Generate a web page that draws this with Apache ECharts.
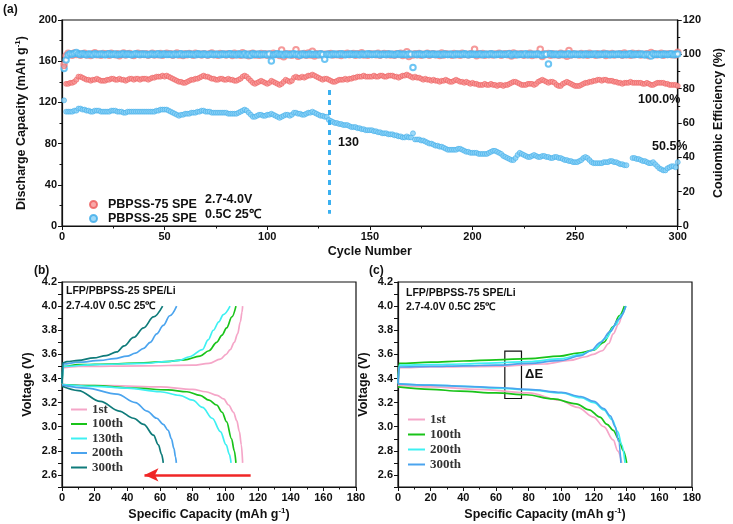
<!DOCTYPE html>
<html>
<head>
<meta charset="utf-8">
<script src="https://cdn.jsdelivr.net/npm/echarts@6/dist/echarts.min.js"></script>
<style>
  html, body { margin: 0; padding: 0; background: #fff; }
  #main { width: 733px; height: 524px; }
</style>
</head>
<body>
<div id="main"></div>
<script>
// ---------- (a) cycling data, one value per cycle (1..300) ----------
var capRed = [
155,138,138,139,139,140,142,145,145,144,
143,142,142,141,142,142,143,142,141,141,
141,142,142,143,143,142,142,143,142,142,
141,142,143,143,142,143,143,142,143,143,
143,142,143,144,144,145,145,145,146,145,
146,145,144,143,142,141,140,140,139,139,
140,141,142,142,143,143,144,145,146,145,
145,144,143,143,142,142,143,143,142,142,
143,142,142,141,141,142,143,145,146,145,
143,141,139,138,139,140,141,140,139,138,
139,141,140,139,138,137,138,140,142,141,
140,141,144,145,144,144,145,144,145,146,
146,147,146,145,144,143,142,143,143,142,
141,140,140,141,142,142,142,143,142,143,
143,144,144,145,145,145,146,145,145,145,
145,146,145,145,146,146,145,145,146,146,
146,145,145,144,145,146,146,147,146,145,
144,145,144,144,143,142,143,142,142,141,
142,141,141,140,141,141,142,141,140,140,
141,142,141,140,140,139,140,139,138,139,
138,138,137,137,137,138,137,137,138,137,
137,136,137,137,136,137,137,138,139,140,
140,139,138,137,137,137,138,138,138,137,
138,140,141,142,141,140,139,140,140,139,
137,136,136,138,139,140,139,138,137,136,
136,136,137,138,139,139,140,140,141,141,
142,142,141,142,142,141,141,141,140,140,
139,139,138,139,139,139,140,139,139,139,
139,139,138,138,139,138,137,137,138,139,
139,139,139,138,138,137,137,137,137,136];

var capBlue = [
122,111,111,111,111,112,112,114,114,113,
113,112,112,111,111,112,112,112,111,111,
111,111,111,112,112,112,111,111,111,110,
110,111,111,111,111,111,111,111,111,111,
111,111,111,111,111,112,112,113,113,113,
113,112,111,110,109,108,107,108,108,109,
109,109,110,110,110,111,111,112,112,111,
111,111,110,110,110,110,110,110,110,110,
109,109,109,109,109,110,111,112,113,112,
110,108,106,106,107,108,108,107,107,108,
108,109,108,107,106,105,106,107,108,108,
107,108,110,110,109,109,108,108,109,110,
110,111,110,109,108,107,107,106,106,103,
102,101,100,100,99,99,98,98,98,97,
96,96,96,95,95,94,94,93,93,93,
93,92,92,91,91,90,90,90,89,89,
89,88,88,87,87,86,86,87,86,86,
90,84,84,84,83,83,82,81,80,80,
79,78,78,77,77,76,75,74,74,74,
74,74,75,75,74,73,72,72,71,71,
71,71,70,70,70,70,70,71,72,73,
73,72,71,70,68,67,66,65,64,64,
66,69,71,70,69,68,67,67,68,69,
68,67,67,68,68,67,67,66,66,67,
67,66,66,65,64,64,63,63,62,62,
62,63,64,66,67,66,64,62,61,61,
61,61,61,62,62,62,63,63,62,62,
61,60,60,59,59,null,null,66,66,65,
65,64,63,63,62,61,61,62,60,58,
56,55,54,54,56,57,58,58,57,62];

var ceRed = [
94.0,99.2,100.6,100.1,99.5,100.8,99.9,100.3,99.4,100.2,
100.7,99.6,100.0,99.3,100.4,100.9,99.8,100.2,99.5,100.5,
99.9,100.3,99.4,100.6,100.1,99.7,100.4,99.2,100.0,100.8,
99.6,100.2,100.5,99.8,99.3,100.1,100.6,99.7,100.3,99.9,
100.4,99.5,100.0,100.7,99.6,100.2,99.8,100.5,99.4,100.1,
100.6,99.9,100.3,99.5,100.0,100.8,99.6,100.2,99.3,100.4,
99.8,100.5,100.1,99.4,100.7,99.9,100.2,99.6,100.4,100.0,
99.5,100.3,100.8,99.7,100.1,99.4,100.5,99.9,100.2,99.6,
100.4,100.0,99.3,100.6,99.8,100.2,99.5,100.9,99.7,100.1,
99.2,100.4,100.7,99.6,100.0,99.4,100.5,99.8,100.3,99.5,
100.2,99.7,100.6,99.9,100.1,99.3,102.5,98.6,100.4,99.8,
100.3,99.5,100.1,102.6,98.9,100.2,99.7,100.5,99.4,100.8,
99.6,101.8,99.1,100.3,99.8,100.4,99.5,100.0,99.9,100.2,
100.5,99.6,100.1,99.8,100.4,99.3,100.2,99.9,100.6,99.7,
100.0,100.5,99.4,100.3,99.8,100.9,99.6,100.1,99.5,100.4,
99.9,100.2,99.7,100.6,99.4,100.0,100.5,99.8,100.3,99.6,
100.1,99.5,100.4,99.9,100.7,99.3,100.2,101.5,98.8,100.0,
99.6,100.3,99.8,100.5,99.4,100.1,99.9,100.6,99.5,100.2,
100.4,99.7,100.0,99.3,100.8,99.6,100.3,99.9,100.1,99.5,
100.5,99.8,100.2,99.4,100.6,99.9,100.0,99.6,100.4,100.1,
103.0,99.2,100.3,99.7,100.5,99.5,100.1,99.8,100.4,99.6,
100.2,99.9,100.6,99.4,100.0,100.3,99.7,100.5,99.1,100.8,
99.6,100.2,99.9,100.4,99.5,100.1,99.8,100.6,99.3,100.0,
99.7,100.4,103.0,98.7,100.2,99.9,100.5,99.4,100.3,99.8,
100.1,99.5,100.6,99.7,100.2,98.9,102.2,99.6,100.4,99.9,
100.0,99.6,100.5,99.8,100.2,99.4,100.7,99.9,100.1,99.5,
100.4,99.7,100.0,100.6,99.3,100.2,99.8,100.5,99.6,100.1,
99.9,100.3,99.5,100.8,99.7,100.0,99.4,100.6,99.8,100.2,
100.5,99.6,100.1,99.9,100.4,99.2,101.0,99.7,100.3,99.8,
100.0,100.6,99.5,100.2,99.9,100.4,99.7,100.1,99.6,101.2];

var ceBlue = [
91.8,96.7,99.6,100.3,100.0,100.5,101.0,100.2,99.9,100.3,
100.1,99.8,100.2,100.0,99.7,100.3,100.1,99.9,100.2,100.0,
99.8,100.1,100.3,99.9,100.0,100.2,99.7,100.1,100.0,100.3,
99.9,100.2,100.0,99.8,100.1,100.3,100.0,99.9,100.2,100.0,
100.1,99.8,100.0,100.2,99.9,100.1,100.3,99.8,100.0,100.2,
99.9,100.1,100.0,99.7,100.2,99.9,100.0,100.3,99.8,100.1,
100.0,100.2,99.9,100.1,99.8,100.3,100.0,99.9,100.2,100.1,
99.8,100.0,100.2,99.9,100.1,100.0,99.8,100.2,100.0,99.9,
100.1,100.3,99.9,100.0,99.7,100.2,100.1,99.8,100.4,99.6,
100.0,99.5,100.3,100.1,99.9,100.2,99.8,100.0,100.1,99.7,
100.2,96.1,99.8,100.0,100.3,99.9,100.1,99.6,100.2,100.0,
99.7,100.1,100.3,99.9,100.0,99.5,100.2,100.1,99.8,100.0,
100.2,99.9,100.1,100.0,99.7,100.3,99.9,97.1,100.1,100.0,
99.8,100.2,100.0,100.1,99.9,100.3,100.0,99.8,100.1,100.0,
100.2,99.9,100.0,100.1,99.8,100.2,100.0,99.9,100.3,100.0,
99.9,100.1,100.0,100.2,99.8,100.0,100.1,99.9,100.2,100.0,
100.1,99.8,100.0,100.3,99.9,100.1,100.0,99.7,100.2,100.0,
92.4,100.1,99.9,100.2,100.0,99.8,100.1,100.3,99.9,100.0,
100.2,99.9,100.0,100.1,99.8,100.2,100.0,99.9,100.1,100.0,
99.8,100.2,100.0,100.1,99.9,100.3,100.0,99.8,100.2,100.0,
100.1,99.9,100.0,100.2,99.7,100.1,100.0,99.9,100.3,100.0,
99.8,100.1,100.0,100.2,99.9,100.0,100.1,100.4,99.6,100.0,
100.2,99.8,100.1,100.0,99.9,100.3,99.7,100.0,100.1,99.9,
100.0,100.2,99.8,99.4,100.1,100.0,94.3,100.4,99.9,100.1,
100.0,99.8,100.2,100.0,99.9,100.1,100.3,99.8,100.0,100.2,
99.9,100.0,100.1,99.8,100.2,100.0,99.9,100.1,100.0,100.2,
99.8,100.0,100.1,99.9,100.2,100.0,99.8,100.1,100.0,99.9,
100.2,100.0,99.8,100.1,99.9,100.0,100.3,99.7,100.1,100.0,
99.9,100.2,100.0,99.6,100.1,99.8,99.0,100.4,99.9,100.1,
100.0,99.8,100.2,100.0,99.9,100.1,100.3,99.8,100.0,100.2];

// ---------- (b) LFP/PBPSS-25: [capacity, voltage] ----------
var b1Chg   = [[0,3.36],[1,3.49],[10,3.5],[50,3.505],[80,3.51],[90,3.525],[97,3.56],[100.5,3.6],[103,3.64],[105.5,3.7],[107.5,3.77],[109.2,3.87],[110.2,3.95],[110.6,4.0]];
var b1Dis   = [[0,3.35],[30,3.34],[60,3.33],[80,3.31],[88,3.29],[95,3.26],[99,3.23],[102,3.18],[105,3.12],[107,3.05],[108.6,2.96],[109.8,2.85],[110.6,2.7]];
var b100Chg = [[0,3.36],[0.8,3.5],[10,3.515],[30,3.52],[50,3.53],[64,3.54],[75,3.555],[84.5,3.585],[90,3.63],[94.7,3.7],[98,3.76],[100.8,3.82],[104,3.91],[106.5,4.0]];
var b100Dis = [[0,3.35],[20,3.34],[44,3.32],[65,3.305],[76.5,3.29],[84.5,3.26],[90,3.22],[94.7,3.18],[98,3.12],[100.8,3.04],[103.8,2.9],[105.5,2.8],[106.5,2.7]];
var b130Chg = [[0,3.36],[0.8,3.5],[20,3.515],[50,3.525],[64,3.54],[72,3.55],[78,3.58],[86,3.64],[89.5,3.72],[92.7,3.8],[96,3.87],[98.8,3.93],[102.9,4.0]];
var b130Dis = [[0,3.35],[20,3.335],[40,3.32],[60,3.29],[72,3.26],[80,3.22],[86,3.16],[92,3.07],[97,2.96],[100.5,2.85],[102.5,2.77],[103.5,2.7]];
var b200Chg = [[0,3.36],[0.8,3.52],[10,3.535],[23.5,3.55],[32,3.565],[39.8,3.585],[45,3.61],[50,3.65],[54,3.7],[58,3.77],[62,3.84],[66,3.92],[70.2,4.0]];
var b200Dis = [[0,3.345],[15,3.32],[33.7,3.27],[45,3.2],[52,3.13],[58,3.07],[62,3.02],[65,2.97],[67,2.9],[68.5,2.82],[69.5,2.75],[70,2.7]];
var b300Chg = [[0,3.36],[0.5,3.53],[3,3.54],[10,3.55],[19.4,3.57],[27,3.59],[33.5,3.62],[38,3.67],[43.8,3.74],[50,3.82],[56,3.91],[61.6,4.0]];
var b300Dis = [[0,3.335],[10,3.3],[23.5,3.21],[35,3.13],[43.8,3.07],[50,3.02],[56,2.93],[59,2.85],[61,2.77],[62,2.7]];

// ---------- (c) LFP/PBPSS-75 ----------
var c1Chg   = [[0,3.36],[1,3.49],[20,3.495],[60,3.5],[90,3.52],[105,3.55],[115,3.58],[119.6,3.6],[125,3.63],[129,3.69],[131.8,3.77],[135,3.85],[137.5,3.93],[139,4.0]];
var c1Dis   = [[0,3.345],[20,3.33],[50,3.31],[80,3.28],[99,3.22],[110,3.16],[119.6,3.08],[126,3.0],[131.8,2.89],[134.5,2.8],[137,2.7]];
var c100Chg = [[0,3.36],[0.8,3.525],[20,3.535],[40,3.545],[60,3.555],[80,3.565],[99,3.585],[110,3.61],[119.6,3.634],[126,3.7],[131.8,3.83],[135.5,3.92],[138.6,4.0]];
var c100Dis = [[0,3.33],[20,3.31],[37.8,3.295],[60,3.28],[78.7,3.265],[95,3.23],[109,3.19],[117,3.14],[123.6,3.08],[128,3.02],[131.8,2.97],[135,2.9],[138,2.8],[140,2.7]];
var c200Chg = [[0,3.36],[0.8,3.51],[20,3.515],[40,3.52],[60,3.53],[80,3.54],[100,3.565],[112,3.6],[120,3.64],[127,3.73],[133,3.84],[137,3.93],[139.5,4.0]];
var c200Dis = [[0,3.355],[20,3.345],[40,3.335],[60,3.32],[80,3.305],[100,3.28],[112,3.24],[120,3.2],[126,3.14],[131,3.06],[134.5,2.96],[137,2.85],[139,2.7]];
var c300Chg = [[0,3.36],[0.8,3.495],[20,3.5],[40,3.505],[60,3.51],[80,3.525],[100,3.55],[112,3.59],[118,3.63],[124,3.7],[130,3.79],[135,3.89],[139.5,4.0]];
var c300Dis = [[0,3.355],[20,3.345],[40,3.335],[60,3.325],[80,3.31],[100,3.285],[112,3.25],[120,3.21],[126,3.15],[130,3.09],[133,3.0],[135,2.88],[136.5,2.7]];

var legendB = ['1st', '100th', '130th', '200th', '300th'];
var legendC = ['1st', '100th', '200th', '300th'];

var SANS = 'Liberation Sans';
var SERIF = 'Liberation Serif';
var INK = '#111';

var chart = echarts.init(document.getElementById('main'));

function pairs(vals) {
  var out = [];
  for (var i = 0; i < vals.length; i++) {
    out.push([i + 1, vals[i]]);
  }
  return out;
}

function axisBase() {
  return {
    axisLine: { show: true, onZero: false, lineStyle: { color: INK, width: 1.2 } },
    axisTick: { show: true, inside: false, length: 4, lineStyle: { color: INK, width: 1 } },
    minorTick: { show: true, splitNumber: 2, length: 2.5, lineStyle: { color: INK, width: 1 } },
    axisLabel: { color: INK, fontFamily: SANS, fontWeight: 'bold', fontSize: 11, margin: 5 },
    splitLine: { show: false },
    nameTextStyle: {
      color: INK, fontFamily: SANS, fontWeight: 'bold', fontSize: 12.5,
      rich: { s: { fontFamily: SANS, fontWeight: 'bold', fontSize: 8, color: INK, padding: [0, 0, 7, 0] } }
    }
  };
}

function mk(extra) {
  var o = axisBase();
  for (var k in extra) o[k] = extra[k];
  return o;
}

function voltLabel(v) {
  var t = Math.round(v * 10);
  return t % 2 === 0 ? (t / 10).toFixed(1) : '';
}

function curve(name, data, color, xi, yi, extra) {
  var s = {
    name: name, type: 'line', xAxisIndex: xi, yAxisIndex: yi,
    data: data, showSymbol: false, symbol: 'none',
    smooth: 0.35, smoothMonotone: 'x',
    lineStyle: { color: color, width: 1.7 }, itemStyle: { color: color },
    z: 3
  };
  if (extra) for (var k in extra) s[k] = extra[k];
  return s;
}

var pink = '#F5A6C8', green = '#19C319', cyan = '#3EF0F2', blue = '#4BA4EE', teal = '#0F7B7A';

var option = {
  animation: false,
  backgroundColor: '#fff',
  textStyle: { fontFamily: SANS },
  grid: [
    { left: 62, top: 20, width: 630, height: 206, show: true, borderColor: INK, borderWidth: 1.2, backgroundColor: 'transparent' },
    { left: 62, top: 282, width: 294, height: 205, show: true, borderColor: INK, borderWidth: 1.2, backgroundColor: 'transparent' },
    { left: 398, top: 282, width: 294, height: 205, show: true, borderColor: INK, borderWidth: 1.2, backgroundColor: 'transparent' }
  ],
  xAxis: [
    mk({ type: 'value', gridIndex: 0, min: 0, max: 300, interval: 50,
         name: 'Cycle Number', nameLocation: 'middle', nameGap: 19 }),
    mk({ type: 'value', gridIndex: 1, min: 0, max: 180, interval: 20,
         name: 'Specific Capacity (mAh g{s|-1})', nameLocation: 'middle', nameGap: 20 }),
    mk({ type: 'value', gridIndex: 2, min: 0, max: 180, interval: 20,
         name: 'Specific Capacity (mAh g{s|-1})', nameLocation: 'middle', nameGap: 20 })
  ],
  yAxis: [
    mk({ type: 'value', gridIndex: 0, min: 0, max: 200, interval: 40,
         name: 'Discharge Capacity (mAh g{s|-1})', nameLocation: 'middle', nameGap: 30 }),
    mk({ type: 'value', gridIndex: 0, min: 0, max: 120, interval: 20, position: 'right',
         name: 'Couiombic Efficiency (%)', nameLocation: 'middle', nameGap: 30, nameRotate: 90 }),
    mk({ type: 'value', gridIndex: 1, min: 2.5, max: 4.2, interval: 0.1,
         minorTick: { show: false },
         axisLabel: { color: INK, fontFamily: SANS, fontWeight: 'bold', fontSize: 11, margin: 5, formatter: voltLabel },
         name: 'Voltage (V)', nameLocation: 'middle', nameGap: 28 }),
    mk({ type: 'value', gridIndex: 2, min: 2.5, max: 4.2, interval: 0.1,
         minorTick: { show: false },
         axisLabel: { color: INK, fontFamily: SANS, fontWeight: 'bold', fontSize: 11, margin: 5, formatter: voltLabel },
         name: 'Voltage (V)', nameLocation: 'middle', nameGap: 28 })
  ],
  legend: [
    {
      data: ['PBPSS-75 SPE', 'PBPSS-25 SPE'],
      orient: 'vertical', left: 84, top: 193, itemGap: 1,
      icon: 'circle', itemWidth: 7, itemHeight: 7,
      textStyle: { color: INK, fontFamily: SANS, fontWeight: 'bold', fontSize: 12.5, padding: [0, 0, 0, 6] }
    },
    {
      data: ['b1', 'b100', 'b130', 'b200', 'b300'],
      orient: 'vertical', left: 66, top: 398, itemGap: 1.5,
      icon: 'rect', itemWidth: 16, itemHeight: 2,
      formatter: function (n) { return legendB[['b1', 'b100', 'b130', 'b200', 'b300'].indexOf(n)]; },
      textStyle: { color: '#333', fontFamily: SERIF, fontWeight: 'bold', fontSize: 13 }
    },
    {
      data: ['c1', 'c100', 'c200', 'c300'],
      orient: 'vertical', left: 403, top: 408, itemGap: 2,
      icon: 'rect', itemWidth: 17, itemHeight: 2,
      formatter: function (n) { return legendC[['c1', 'c100', 'c200', 'c300'].indexOf(n)]; },
      textStyle: { color: '#333', fontFamily: SERIF, fontWeight: 'bold', fontSize: 13 }
    }
  ],
  graphic: [
    { type: 'text', left: 3, top: 4, style: { text: '(a)', font: 'bold 12px "Liberation Sans"', fill: INK } },
    { type: 'text', left: 34, top: 265, style: { text: '(b)', font: 'bold 12px "Liberation Sans"', fill: INK } },
    { type: 'text', left: 369, top: 265, style: { text: '(c)', font: 'bold 12px "Liberation Sans"', fill: INK } },
    { type: 'text', left: 205, top: 193, style: { text: '2.7-4.0V', font: 'bold 12.5px "Liberation Sans"', fill: INK } },
    { type: 'text', left: 205, top: 208, style: { text: '0.5C 25\u2103', font: 'bold 12.5px "Liberation Sans"', fill: INK } },
    { type: 'text', left: 338, top: 136, style: { text: '130', font: 'bold 12.5px "Liberation Sans"', fill: INK } },
    { type: 'text', left: 638, top: 93, style: { text: '100.0%', font: 'bold 12.5px "Liberation Sans"', fill: INK } },
    { type: 'text', left: 652, top: 140, style: { text: '50.5%', font: 'bold 12.5px "Liberation Sans"', fill: INK } },
    { type: 'text', left: 66, top: 286, style: { text: 'LFP/PBPSS-25 SPE/Li', font: 'bold 10.5px "Liberation Sans"', fill: INK } },
    { type: 'text', left: 66, top: 301, style: { text: '2.7-4.0V 0.5C 25\u2103', font: 'bold 10.5px "Liberation Sans"', fill: INK } },
    { type: 'text', left: 406, top: 288, style: { text: 'LFP/PBPSS-75 SPE/Li', font: 'bold 10.5px "Liberation Sans"', fill: INK } },
    { type: 'text', left: 406, top: 302, style: { text: '2.7-4.0V 0.5C 25\u2103', font: 'bold 10.5px "Liberation Sans"', fill: INK } }
  ],
  series: [
    { name: 'CE-75', type: 'scatter', xAxisIndex: 0, yAxisIndex: 1, data: pairs(ceRed),
      symbol: 'emptyCircle', symbolSize: 5.5, itemStyle: { color: '#F27F7F', borderWidth: 1 }, z: 2 },
    { name: 'CE-25', type: 'scatter', xAxisIndex: 0, yAxisIndex: 1, data: pairs(ceBlue),
      symbol: 'emptyCircle', symbolSize: 5.5, itemStyle: { color: '#48B6F0', borderWidth: 1 }, z: 2 },
    { name: 'PBPSS-75 SPE', type: 'scatter', xAxisIndex: 0, yAxisIndex: 0, data: pairs(capRed),
      symbolSize: 5, itemStyle: { color: '#F79393', borderColor: '#EC5A5A', borderWidth: 0.7 }, z: 3 },
    { name: 'PBPSS-25 SPE', type: 'scatter', xAxisIndex: 0, yAxisIndex: 0, data: pairs(capBlue),
      symbolSize: 5, itemStyle: { color: '#86CFF6', borderColor: '#3BAAE8', borderWidth: 0.7 }, z: 3,
      markLine: {
        silent: true, symbol: ['none', 'none'], label: { show: false },
        lineStyle: { color: '#3AB0F0', width: 3, type: [5, 5] },
        data: [[{ coord: [130, 132] }, { coord: [130, 12] }]]
      } },

    curve('b1', b1Chg, pink, 1, 2), curve('b1', b1Dis, pink, 1, 2),
    curve('b100', b100Chg, green, 1, 2), curve('b100', b100Dis, green, 1, 2),
    curve('b130', b130Chg, cyan, 1, 2), curve('b130', b130Dis, cyan, 1, 2),
    curve('b200', b200Chg, blue, 1, 2), curve('b200', b200Dis, blue, 1, 2),
    curve('b300', b300Chg, teal, 1, 2), curve('b300', b300Dis, teal, 1, 2, {
      markLine: {
        silent: true, symbol: ['none', 'arrow'], symbolSize: [10, 14], label: { show: false },
        lineStyle: { color: '#F02626', width: 2.5, type: 'solid' },
        data: [[{ coord: [115.5, 2.6] }, { coord: [50.5, 2.6] }]]
      }
    }),

    curve('c1', c1Chg, pink, 2, 3), curve('c1', c1Dis, pink, 2, 3),
    curve('c100', c100Chg, green, 2, 3), curve('c100', c100Dis, green, 2, 3),
    curve('c200', c200Chg, cyan, 2, 3), curve('c200', c200Dis, cyan, 2, 3),
    curve('c300', c300Chg, blue, 2, 3), curve('c300', c300Dis, blue, 2, 3, {
      markArea: {
        silent: true,
        itemStyle: { color: 'rgba(0,0,0,0)', borderColor: INK, borderWidth: 1.2 },
        label: { show: true, position: 'right', distance: 3, formatter: '\u0394E',
                 color: INK, fontFamily: SANS, fontWeight: 'bold', fontSize: 13 },
        data: [[{ coord: [65.4, 3.626] }, { coord: [75.6, 3.234] }]]
      }
    })
  ]
};

chart.setOption(option);
</script>
</body>
</html>
